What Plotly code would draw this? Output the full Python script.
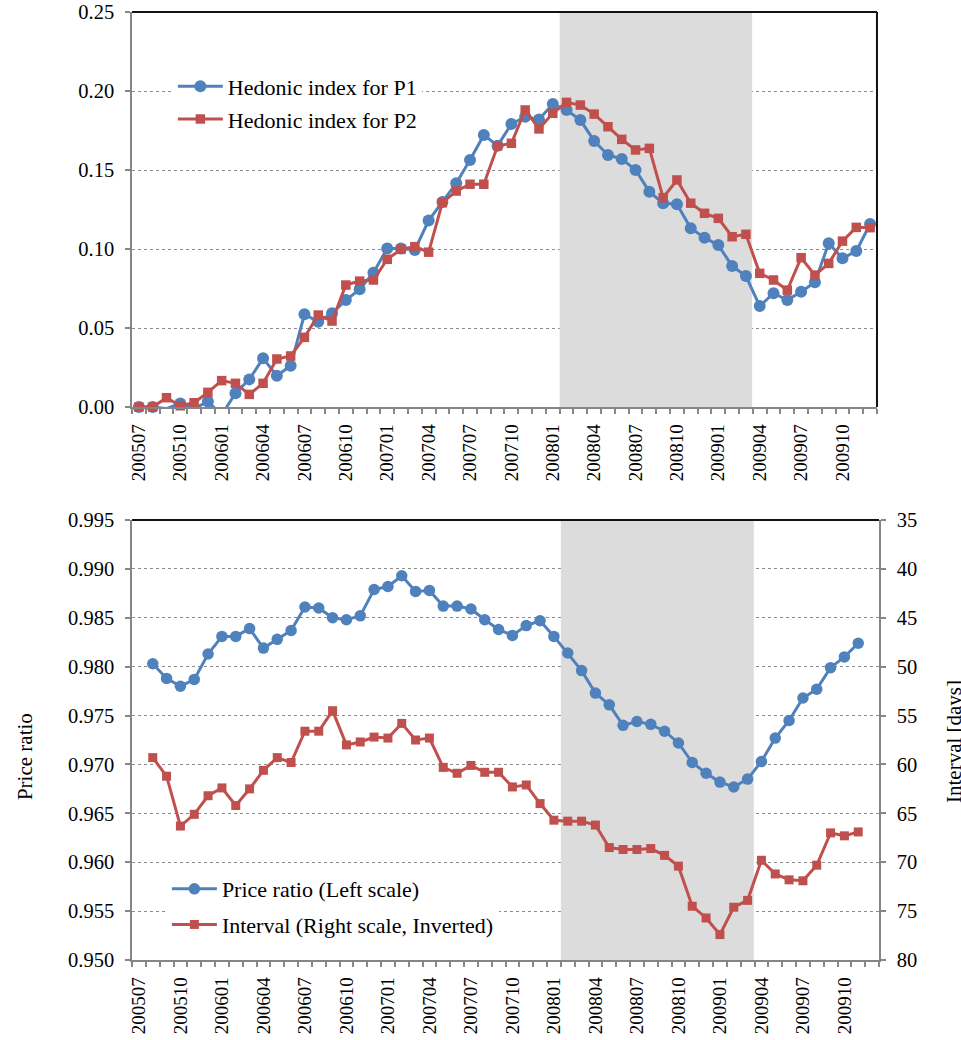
import plotly.graph_objects as go

# months 200507 .. 200912
months = []
for yr in range(2005, 2010):
    for mo in range(1, 13):
        if (yr, mo) >= (2005, 7):
            months.append(f"{yr}{mo:02d}")
xlabels = [m if i % 3 == 0 else "" for i, m in enumerate(months)]

# top panel: hedonic indices (200507 .. 200912)
p1_index = [0.000, 0.000, -0.001, 0.0023, -0.001, 0.0035, -0.005, 0.0087, 0.0175, 0.0308,
            0.0198, 0.0261, 0.0587, 0.0540, 0.0593, 0.0677, 0.0745, 0.0850, 0.1004, 0.1004,
            0.0994, 0.1180, 0.1298, 0.1416, 0.1563, 0.1722, 0.1654, 0.1791, 0.1837, 0.1820,
            0.1918, 0.1880, 0.1816, 0.1684, 0.1595, 0.1570, 0.1500, 0.1363, 0.1290, 0.1283,
            0.1131, 0.1072, 0.1025, 0.0892, 0.0829, 0.0639, 0.0720, 0.0677, 0.0730, 0.0789,
            0.1036, 0.0941, 0.0987, 0.1158]
p2_index = [0.000, 0.000, 0.0059, 0.0008, 0.0027, 0.0093, 0.0167, 0.0150, 0.0080, 0.0150,
            0.0304, 0.0323, 0.0441, 0.0582, 0.0544, 0.0772, 0.0797, 0.0804, 0.0935, 0.0998,
            0.1015, 0.0980, 0.1293, 0.1367, 0.1410, 0.1410, 0.1652, 0.1669, 0.1880, 0.1760,
            0.1859, 0.1928, 0.1911, 0.1854, 0.1774, 0.1694, 0.1627, 0.1637, 0.1325, 0.1437,
            0.1290, 0.1226, 0.1194, 0.1078, 0.1093, 0.0846, 0.0804, 0.0740, 0.0945, 0.0835,
            0.0909, 0.1050, 0.1137, 0.1135]

# bottom panel (200508 .. 200911)
months_b = months[1:53]
price_ratio = [0.9803, 0.9788, 0.9780, 0.9787, 0.9813, 0.9831, 0.9831, 0.9839, 0.9819, 0.9828,
               0.9837, 0.9861, 0.9860, 0.9850, 0.9848, 0.9852, 0.9879, 0.9882, 0.9893, 0.9877,
               0.9878, 0.9862, 0.9862, 0.9859, 0.9848, 0.9838, 0.9832, 0.9842, 0.9847, 0.9831,
               0.9814, 0.9796, 0.9773, 0.9761, 0.9740, 0.9744, 0.9741, 0.9734, 0.9722, 0.9702,
               0.9691, 0.9682, 0.9677, 0.9685, 0.9703, 0.9727, 0.9745, 0.9768, 0.9777, 0.9799,
               0.9810, 0.9824]
interval_days = [59.3, 61.2, 66.3, 65.1, 63.2, 62.4, 64.2, 62.5, 60.6, 59.3,
                 59.8, 56.6, 56.6, 54.5, 58.0, 57.7, 57.2, 57.3, 55.8, 57.5,
                 57.3, 60.3, 60.9, 60.1, 60.8, 60.8, 62.3, 62.1, 64.0, 65.7,
                 65.8, 65.8, 66.2, 68.5, 68.7, 68.7, 68.6, 69.3, 70.4, 74.5,
                 75.7, 77.4, 74.6, 73.9, 69.8, 71.2, 71.8, 71.9, 70.3, 67.0,
                 67.3, 66.9]

# shaded period (category index boundaries)
shade_start, shade_end = 30.5, 44.45

BLUE = "#4F81BD"
RED = "#C0504D"
AXIS = "#868686"
GRID = "#8C8C8C"
SHADE = "#DCDCDC"
FRAME = "#111111"
FONT = "Liberation Serif"

TOP_DOM = [0.5833, 1]
BOT_DOM = [0, 0.4641]
TOP_XEND = 0.9973

fig = go.Figure()

fig.add_trace(go.Scatter(x=months, y=p1_index, xaxis="x", yaxis="y", name="Hedonic index for P1",
                         mode="lines+markers", line=dict(color=BLUE, width=3),
                         marker=dict(symbol="circle", size=12), cliponaxis=False,
                         legend="legend", legendgroup="a"))
fig.add_trace(go.Scatter(x=months, y=p2_index, xaxis="x", yaxis="y", name="Hedonic index for P2",
                         mode="lines+markers", line=dict(color=RED, width=3),
                         marker=dict(symbol="square", size=9.5), cliponaxis=False,
                         legend="legend", legendgroup="b"))
fig.add_trace(go.Scatter(x=months_b, y=price_ratio, xaxis="x2", yaxis="y2", name="Price ratio (Left scale)",
                         mode="lines+markers", line=dict(color=BLUE, width=3),
                         marker=dict(symbol="circle", size=11.5), cliponaxis=False,
                         legend="legend2", legendgroup="c"))
fig.add_trace(go.Scatter(x=months_b, y=interval_days, xaxis="x2", yaxis="y3",
                         name="Interval (Right scale, Inverted)",
                         mode="lines+markers", line=dict(color=RED, width=3),
                         marker=dict(symbol="square", size=9), cliponaxis=False,
                         legend="legend2", legendgroup="d"))

xcommon = dict(type="category", categoryorder="array", categoryarray=months,
               tickmode="array", tickvals=months, ticktext=xlabels, tickson="boundaries",
               ticks="outside", ticklen=5, tickcolor=AXIS, tickwidth=1.5,
               showline=True, linecolor=AXIS, linewidth=1.5, showgrid=False,
               tickangle=-90, tickfont=dict(family=FONT, size=19, color="black"),
               range=[-0.5, 53.5], automargin=False, ticklabelstandoff=8,
               ticklabeloverflow="allow")
ycommon = dict(ticks="outside", ticklen=5, tickcolor=AXIS, tickwidth=1.5,
               showline=True, linecolor=AXIS, linewidth=1.5,
               showgrid=True, gridcolor=GRID, gridwidth=1, griddash="dot", zeroline=False,
               tickfont=dict(family=FONT, size=20.5, color="black"), automargin=False,
               ticklabelstandoff=7, ticklabeloverflow="allow")

fig.update_layout(
    width=961, height=1040,
    margin=dict(l=132, r=82, t=12, b=80),
    paper_bgcolor="white", plot_bgcolor="white",
    font=dict(family=FONT, color="black"),
    xaxis=dict(xcommon, domain=[0, TOP_XEND], anchor="y"),
    yaxis=dict(ycommon, domain=TOP_DOM, anchor="x", range=[0, 0.2500001],
               tickvals=[0, 0.05, 0.10, 0.15, 0.20, 0.25], tickformat=".2f"),
    xaxis2=dict(xcommon, domain=[0, 1], anchor="y2"),
    yaxis2=dict(ycommon, domain=BOT_DOM, anchor="x2", range=[0.95, 0.9950001], dtick=0.005,
                tickformat=".3f"),
    yaxis3=dict(ycommon, overlaying="y2", side="right", anchor="x2", range=[80, 35], dtick=5,
                showgrid=False),
    legend=dict(x=0.0547, y=0.9435, xanchor="left", yanchor="top", bgcolor="white",
                font=dict(family=FONT, size=22), tracegroupgap=1, itemwidth=45),
    legend2=dict(x=0.0467, y=0.097, xanchor="left", yanchor="top", bgcolor="white",
                 font=dict(family=FONT, size=22), tracegroupgap=4, itemwidth=45),
    showlegend=True,
)

# shaded band
fig.add_shape(type="rect", xref="x", yref="y", x0=shade_start, x1=shade_end, y0=0, y1=0.25,
              fillcolor=SHADE, line_width=0, layer="between")
fig.add_shape(type="rect", xref="x2", yref="y2", x0=shade_start, x1=shade_end, y0=0.95, y1=0.995,
              fillcolor=SHADE, line_width=0, layer="between")

# dark top/right frame lines
frame = dict(color=FRAME, width=2)
fig.add_shape(type="line", xref="paper", yref="paper", x0=0, x1=TOP_XEND, y0=1, y1=1, line=frame)
fig.add_shape(type="line", xref="paper", yref="paper", x0=TOP_XEND, x1=TOP_XEND,
              y0=TOP_DOM[0], y1=1, line=frame)
fig.add_shape(type="line", xref="paper", yref="paper", x0=0, x1=1, y0=BOT_DOM[1], y1=BOT_DOM[1],
              line=frame)

fig.add_annotation(text="Price ratio", xref="paper", yref="paper", x=-0.1432, y=0.2141,
                   xanchor="center", yanchor="middle",
                   textangle=-90, showarrow=False, font=dict(family=FONT, size=21))
fig.add_annotation(text="Interval [days]", xref="paper", yref="paper", x=1.0817, y=0.23,
                   xanchor="left", yanchor="middle",
                   textangle=-90, showarrow=False, font=dict(family=FONT, size=21))

# the page body has a default 8px margin; remove it so the figure sits at the page corner
fig.write_html("out.html", config={"displayModeBar": False},
               post_script="document.body.style.margin = '0';")
